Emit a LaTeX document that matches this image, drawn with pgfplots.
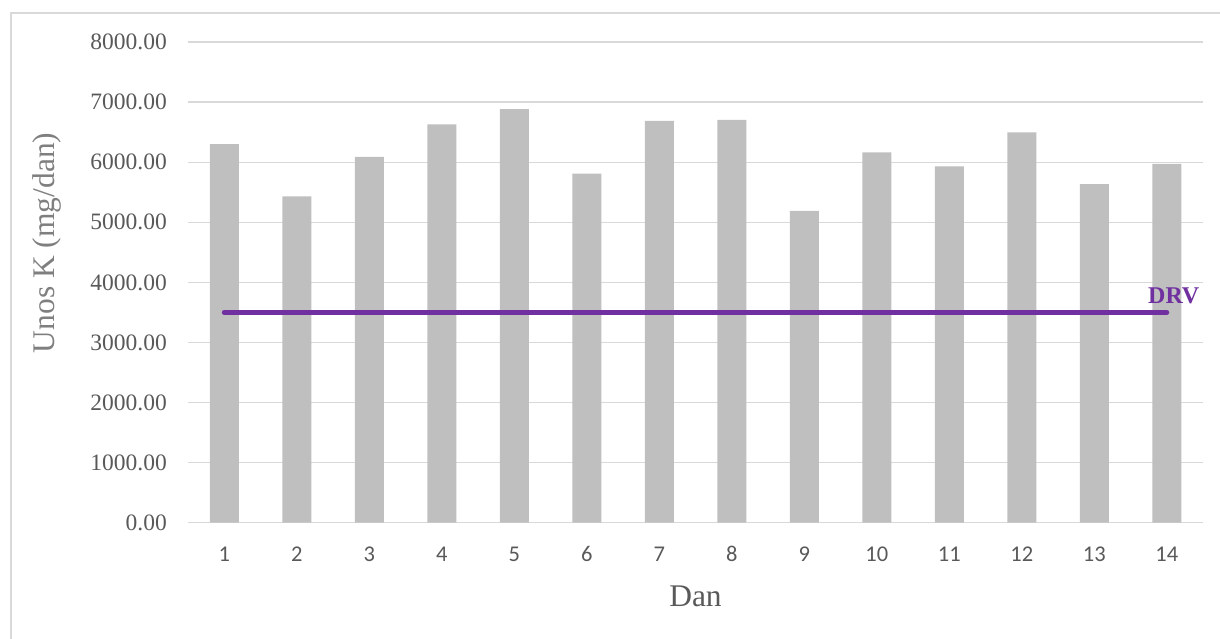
\documentclass[border=0pt]{standalone}
\usepackage{fontspec}
\setmainfont{Liberation Serif}
\newfontfamily\carlito{Carlito}
\usepackage{pgfplots}
\pgfplotsset{compat=1.18}
\definecolor{barc}{HTML}{BFBFBF}
\definecolor{gridc}{HTML}{D9D9D9}
\definecolor{tickc}{HTML}{595959}
\definecolor{drv}{HTML}{7030A0}
\definecolor{ylab}{HTML}{7F7F7F}
\begin{document}
\begin{tikzpicture}[x=1pt,y=1pt]
\draw[gridc, line width=1.2pt] (11,-660) -- (11,-13) -- (1240,-13);
\begin{axis}[
  at={(188pt,-522.7pt)}, anchor=south west,
  scale only axis, width=1015pt, height=480.7pt,
  xmin=0.5, xmax=14.5, ymin=0, ymax=8000,
  xtick={1,...,14}, ytick={0,1000,...,8000},
  major tick length=0pt,
  axis line style={draw=none},
  ymajorgrids, grid style={gridc, line width=1.2pt},
  /pgf/number format/.cd, fixed, fixed zerofill, precision=2, 1000 sep={}, assume math mode=true,
  /pgfplots/.cd,
  yticklabel style={font=\fontsize{23.5}{27}\selectfont, text=tickc, anchor=east, inner sep=0pt, xshift=-21pt},
  xticklabel style={font=\carlito\fontsize{22.5}{26}\selectfont, text=tickc, anchor=base, inner sep=0pt, yshift=-39pt},
  xticklabels={1,2,3,4,5,6,7,8,9,10,11,12,13,14},
  ylabel={Unos K (mg/dan)},
  ylabel style={font=\fontsize{31.5}{36}\selectfont, text=ylab, at={(axis description cs:-0.139,0.582)}, anchor=center, inner sep=0pt},
  xlabel={Dan},
  xlabel style={font=\fontsize{31.5}{36}\selectfont, text=tickc, at={(axis description cs:0.5,-0.153)}, anchor=center, inner sep=0pt},
  clip=false,
]
\addplot[ybar, bar width=29pt, fill=barc, draw=none] coordinates {
(1,6300) (2,5433) (3,6087) (4,6631) (5,6881) (6,5809) (7,6686)
(8,6703) (9,5188) (10,6165) (11,5932) (12,6498) (13,5633) (14,5970)
};
\addplot[drv, line width=5pt, line cap=round] coordinates {(1,3500) (14,3500)}
  node[pos=1, anchor=base, xshift=7pt, yshift=8.7pt, inner sep=0pt, text=drv, font=\bfseries\fontsize{24}{28}\selectfont] {DRV};
\end{axis}
\pgfresetboundingbox
\useasboundingbox (0,0) rectangle (1220,-639);
\end{tikzpicture}
\end{document}
